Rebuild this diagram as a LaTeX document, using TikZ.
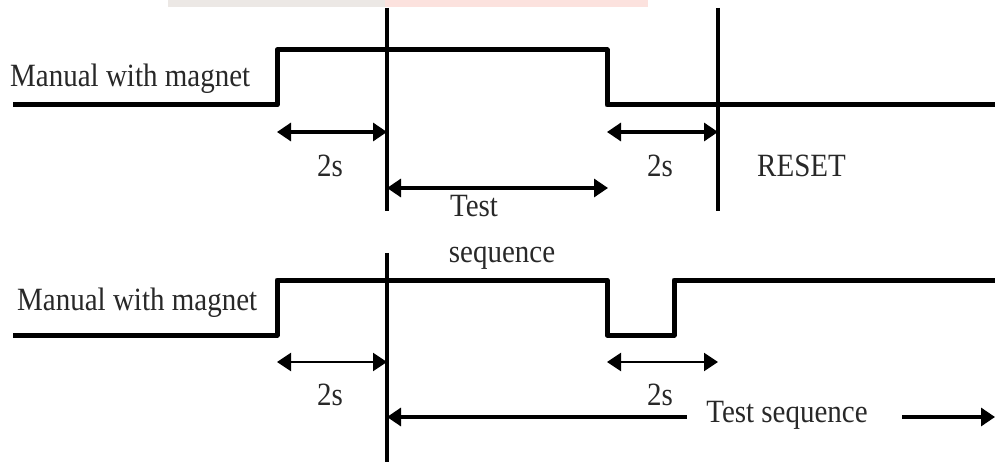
\documentclass[tikz,border=0pt]{standalone}
\usepackage{fontspec}
\usepackage{graphicx}
\setmainfont{Liberation Serif}
\usetikzlibrary{arrows.meta}
\definecolor{txt}{RGB}{40,40,40}
\definecolor{wmgray}{RGB}{236,232,229}
\definecolor{wmpink}{RGB}{252,226,222}
\newcommand{\tallt}[1]{\scalebox{1}[1.12]{#1}}
\tikzset{
  signal/.style={line width=5pt, line join=round},
  marker/.style={line width=3.6pt},
  dim/.style={line width=3.2pt, {Triangle[length=14pt,width=18pt]}-{Triangle[length=14pt,width=18pt]}},
  dimthin/.style={line width=2.2pt, {Triangle[length=14pt,width=18pt]}-{Triangle[length=14pt,width=18pt]}},
  lbl/.style={inner sep=0pt, text=txt, font=\fontsize{29}{34}\selectfont},
}
\begin{document}
\begin{tikzpicture}[x=1pt,y=-1pt]
\useasboundingbox (0,0) rectangle (995,462);
% faint watermark band
\fill[wmgray] (168,0) rectangle (385,7);
\fill[wmpink] (385,0) rectangle (648,7);

% ---- top signal ----
\coordinate (t0) at (13,105);
\coordinate (t1) at (277,105);
\coordinate (t2) at (277,50);
\coordinate (t3) at (607,50);
\coordinate (t4) at (607,105);
\coordinate (t5) at (995,105);
\draw[signal] (t0) -- (t1) -- (t2) -- (t3) -- (t4) -- (t5);
\node[lbl, anchor=base west] (lab1) at (10,87) {\tallt{Manual with magnet}};

\coordinate (v1a) at (387,8);
\coordinate (v1b) at (387,211);
\coordinate (v2a) at (718,8);
\coordinate (v2b) at (718,211);
\draw[marker] (v1a) -- (v1b);
\draw[marker] (v2a) -- (v2b);

\coordinate (a1l) at (277,132);
\coordinate (a1r) at (387,132);
\draw[dim] (a1l) -- (a1r);
\node[lbl, anchor=base] (s1) at (330,177) {\tallt{2s}};

\coordinate (a2l) at (607,132);
\coordinate (a2r) at (718,132);
\draw[dim] (a2l) -- (a2r);
\node[lbl, anchor=base] (s2) at (660,177) {\tallt{2s}};
\node[lbl, anchor=base west] (reset) at (757,177) {\tallt{RESET}};

\coordinate (tsl) at (387,188);
\coordinate (tsr) at (608,188);
\draw[dim] (tsl) -- (tsr);
\node[lbl, anchor=base] (test) at (474,217) {\tallt{Test}};
\node[lbl, anchor=base] (seq) at (502,262) {\tallt{sequence}};

% ---- bottom signal ----
\coordinate (b0) at (13,335);
\coordinate (b1) at (277,335);
\coordinate (b2) at (277,280);
\coordinate (b3) at (607,280);
\coordinate (b4) at (607,335);
\coordinate (b5) at (674,335);
\coordinate (b6) at (674,280);
\coordinate (b7) at (995,280);
\draw[signal] (b0) -- (b1) -- (b2) -- (b3) -- (b4) -- (b5) -- (b6) -- (b7);
\node[lbl, anchor=base west] (lab2) at (17,310) {\tallt{Manual with magnet}};

\coordinate (v3a) at (387,253);
\coordinate (v3b) at (387,462);
\draw[marker] (v3a) -- (v3b);

\coordinate (c1l) at (277,362);
\coordinate (c1r) at (387,362);
\draw[dimthin] (c1l) -- (c1r);
\node[lbl, anchor=base] (s3) at (330,405) {\tallt{2s}};

\coordinate (c2l) at (607,362);
\coordinate (c2r) at (718,362);
\draw[dimthin] (c2l) -- (c2r);
\node[lbl, anchor=base] (s4) at (660,405) {\tallt{2s}};

\node[lbl, anchor=base] (ts2) at (787,422) {\tallt{Test sequence}};
\coordinate (d0) at (387,417);
\coordinate (d1) at (687,417);
\coordinate (d2) at (902,417);
\coordinate (d3) at (995,417);
\draw[line width=3.2pt, {Triangle[length=14pt,width=18pt]}-] (d0) -- (d1);
\draw[line width=3.2pt, -{Triangle[length=14pt,width=18pt]}] (d2) -- (d3);
\end{tikzpicture}
\end{document}
